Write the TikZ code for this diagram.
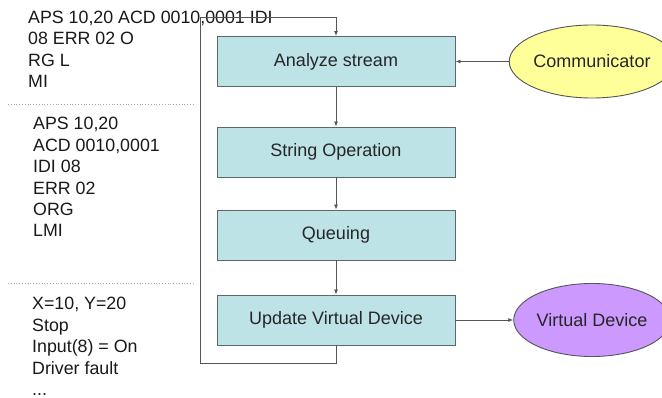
\documentclass[tikz,border=0pt]{standalone}
\usepackage{fontspec}
\setmainfont{Liberation Sans}
\usetikzlibrary{shapes.geometric,arrows.meta}
\definecolor{boxfill}{HTML}{BDE3E6}
\definecolor{boxline}{HTML}{5A6A6C}
\definecolor{linegray}{HTML}{555555}
\definecolor{commfill}{HTML}{FFFF99}
\definecolor{vdfill}{HTML}{CC99FF}
\tikzset{
  x=1pt, y=-1pt,
  stepbox/.style={draw=boxline, line width=0.9pt, fill=boxfill, minimum width=238pt, minimum height=50pt, inner sep=0pt, font=\fontsize{18}{20}\selectfont, text=black!85},
  actor/.style={ellipse, draw=linegray, line width=0.9pt, minimum width=140pt, minimum height=73pt, inner sep=0pt, font=\fontsize{18}{20}\selectfont, text=black!85},
  conn/.style={draw=linegray, line width=0.9pt, -{Latex[length=5pt,width=4pt]}},
  sep/.style={draw=gray!70, line width=0.8pt, dotted},
  txt/.style={anchor=base west, inner sep=0pt, font=\fontsize{17.8}{21.4}\selectfont, text=black!90}
}
\begin{document}
\begin{tikzpicture}
\useasboundingbox (0,0) rectangle (662,398);
\fill[white] (0,0) rectangle (662,398);

% text block 1
\node[txt] (ta1) at (28,23.5) {APS 10,20 ACD 0010,0001 IDI};
\node[txt] (ta2) at (28,44.9) {08 ERR 02 O};
\node[txt] (ta3) at (28,66.3) {RG L};
\node[txt] (ta4) at (28,87.7) {MI};
% text block 2
\node[txt] (tb1) at (33,130) {APS 10,20};
\node[txt] (tb2) at (33,151.4) {ACD 0010,0001};
\node[txt] (tb3) at (33,172.8) {IDI 08};
\node[txt] (tb4) at (33,194.2) {ERR 02};
\node[txt] (tb5) at (33,215.6) {ORG};
\node[txt] (tb6) at (33,237) {LMI};
% text block 3
\node[txt] (tc1) at (32,310) {X=10, Y=20};
\node[txt] (tc2) at (32,331.4) {Stop};
\node[txt] (tc3) at (32,352.8) {Input(8) = On};
\node[txt] (tc4) at (32,374.2) {Driver fault};
\node[txt] (tc5) at (32,395.6) {...};

% separators
\coordinate (s1a) at (8,104); \coordinate (s1b) at (195,104);
\coordinate (s2a) at (8,283); \coordinate (s2b) at (195,283);
\draw[sep] (s1a) -- (s1b);
\draw[sep] (s2a) -- (s2b);

% boxes
\node[stepbox] (an) at (336,61.5) {Analyze stream};
\node[stepbox] (so) at (336,152) {String Operation};
\node[stepbox] (qu) at (336,235) {Queuing};
\node[stepbox] (uv) at (336,320) {Update Virtual Device};

% ellipses
\node[actor, fill=commfill] (cm) at (592,61.5) {Communicator};
\node[actor, fill=vdfill] (vd) at (592,320) {Virtual Device};

% connectors
\draw[conn] (an) -- (so);
\draw[conn] (so) -- (qu);
\draw[conn] (qu) -- (uv);
\draw[conn] (cm) -- (an);
\draw[conn] (uv) -- (vd);

% feedback loop
\coordinate (lb) at (200,363);
\coordinate (lt) at (200,17.5);
\draw[conn] (uv.south) |- (lb) -- (lt) -| (an.north);
\end{tikzpicture}
\end{document}
